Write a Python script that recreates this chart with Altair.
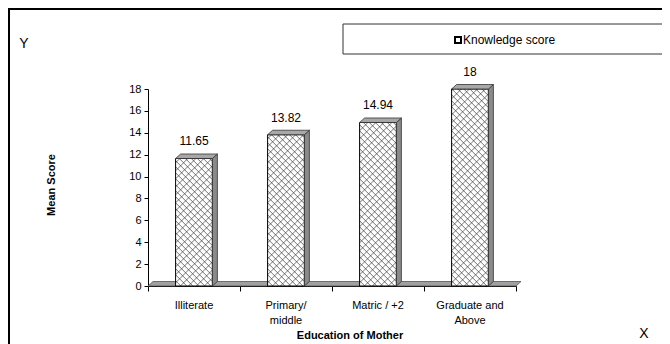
import altair as alt
import pandas as pd
import numpy as np

# ---- data ----
categories = ["Illiterate", "Primary/\nmiddle", "Matric / +2", "Graduate and\nAbove"]
values = [11.65, 13.82, 14.94, 18]
value_labels = ["11.65", "13.82", "14.94", "18"]
y_ticks = [0, 2, 4, 6, 8, 10, 12, 14, 16, 18]
x_ticks = [0, 1, 2, 3, 4]

# ---- geometry helpers (plot area size and 3D depth) ----
W, H = 368, 197
YMAX = 18
SX = W / 4.0
SY = H / YMAX
HALF = 0.2
DX = 5 / SX
DY = 4.5 / SY

bars = pd.DataFrame({"cat": categories, "value": values, "label": value_labels,
                     "idx": list(range(len(categories)))})
bars["xc"] = bars["idx"] + 0.5
bars["xl"] = bars["xc"] - HALF
bars["xr"] = bars["xc"] + HALF
bars["base"] = 0.0

# hatch segments clipped to each bar (decorative fill pattern)
rows = []
bw = 2 * HALF * SX
for _, b in bars.iterrows():
    T = b["value"] * SY
    for m, step in ((-1, 6.0), (1, 8.0)):
        for c in np.arange(-bw - step, T + bw + step, step):
            if m == 1:
                lo, hi = -c, T - c
            else:
                lo, hi = c - T, c
            lo = max(lo, 0.0)
            hi = min(hi, bw)
            if hi - lo < 0.5:
                continue
            rows.append({"cat": b["cat"], "x": b["xl"] + lo / SX, "x2": b["xl"] + hi / SX,
                         "y": (m * lo + c) / SY, "y2": (m * hi + c) / SY})
hatch = pd.DataFrame(rows)

# side faces and top faces of the 3D bars
side_rows, top_rows = [], []
for _, b in bars.iterrows():
    side_rows.append({"cat": b["cat"], "x": b["xr"], "lo": 0.0, "hi": b["value"]})
    side_rows.append({"cat": b["cat"], "x": b["xr"] + DX, "lo": DY, "hi": b["value"] + DY})
    v = b["value"]
    top_rows += [
        {"cat": b["cat"], "x": b["xl"], "lo": v, "hi": v},
        {"cat": b["cat"], "x": b["xl"] + DX, "lo": v, "hi": v + DY},
        {"cat": b["cat"], "x": b["xr"], "lo": v, "hi": v + DY},
        {"cat": b["cat"], "x": b["xr"] + DX, "lo": v + DY, "hi": v + DY},
    ]
side = pd.DataFrame(side_rows)
topf = pd.DataFrame(top_rows)
floor = pd.DataFrame({"x": [0, DX, 4, 4 + DX], "lo": [0, 0, 0, DY], "hi": [0, DY, DY, DY]})

xs = alt.Scale(domain=[0, 4], nice=False, zero=False)
ys = alt.Scale(domain=[0, YMAX], nice=False)
one = pd.DataFrame({"a": [0]})

x_axis = alt.Axis(values=x_ticks, labels=False, title=None, tickSize=5, grid=False,
                  domainColor="#000000", tickColor="#000000")
y_axis = alt.Axis(values=y_ticks, title=None, tickSize=4, grid=False, labelFontSize=11,
                  labelColor="#000000", domainColor="#000000", tickColor="#000000",
                  labelPadding=3, labelOverlap=False)


def X(f):
    return alt.X(f, scale=xs, axis=x_axis)


def Y(f):
    return alt.Y(f, scale=ys, axis=y_axis)


floor_layer = alt.Chart(floor).mark_area(fill="#a0a0a0", stroke="#555555", strokeWidth=0.8).encode(
    x=X("x:Q"), y=Y("lo:Q"), y2="hi:Q")

front = alt.Chart(bars).mark_rect(fill="white").encode(
    x=X("xl:Q"), x2="xr:Q", y=Y("base:Q"), y2="value:Q")

hatch_layer = alt.Chart(hatch).mark_rule(color="#3a3a3a", strokeWidth=0.7).encode(
    x=X("x:Q"), x2="x2:Q", y=Y("y:Q"), y2="y2:Q")

outline = alt.Chart(bars).mark_rect(fill=None, stroke="#000000", strokeWidth=1).encode(
    x=X("xl:Q"), x2="xr:Q", y=Y("base:Q"), y2="value:Q")

side_layer = alt.Chart(side).mark_area(fill="#8a8a8a", stroke="#333333", strokeWidth=0.8).encode(
    x=X("x:Q"), y=Y("lo:Q"), y2="hi:Q", detail="cat:N")

top_layer = alt.Chart(topf).mark_area(fill="#a8a8a8", stroke="#333333", strokeWidth=0.8).encode(
    x=X("x:Q"), y=Y("lo:Q"), y2="hi:Q", detail="cat:N")

value_text = alt.Chart(bars).mark_text(baseline="bottom", dy=-10, fontSize=12, color="#000000").encode(
    x=X("xc:Q"), y=Y("value:Q"), text="label:N")

cat_text = alt.Chart(bars).mark_text(baseline="top", fontSize=11, lineBreak="\n", color="#000000",
                                     lineHeight=15).encode(
    x=X("xc:Q"), y=alt.value(211), text="cat:N")

border = alt.Chart(one).mark_rect(fill=None, stroke="#000000", strokeWidth=2).encode(
    x=alt.value(-139), x2=alt.value(560), y=alt.value(-80), y2=alt.value(320))

legend_box = alt.Chart(one).mark_rect(fill="white", stroke="#333333", strokeWidth=1).encode(
    x=alt.value(195), x2=alt.value(521), y=alt.value(-65), y2=alt.value(-35))

legend_icon = alt.Chart(one).mark_point(shape="square", size=36, filled=False, stroke="#000000",
                                        strokeWidth=2, opacity=1).encode(
    x=alt.value(310), y=alt.value(-49))

legend_text = alt.Chart(one).mark_text(align="left", baseline="middle", fontSize=12,
                                       color="#000000").encode(
    x=alt.value(315), y=alt.value(-49), text=alt.value("Knowledge score"))

y_title = alt.Chart(one).mark_text(angle=270, fontSize=11, fontWeight="bold", color="#000000").encode(
    x=alt.value(-96), y=alt.value(96), text=alt.value("Mean Score"))

x_title = alt.Chart(one).mark_text(fontSize=11, fontWeight="bold", color="#000000").encode(
    x=alt.value(202), y=alt.value(247), text=alt.value("Education of Mother"))

y_letter = alt.Chart(one).mark_text(fontSize=14, color="#000000").encode(
    x=alt.value(-124), y=alt.value(-45), text=alt.value("Y"))

x_letter = alt.Chart(one).mark_text(fontSize=14, color="#000000").encode(
    x=alt.value(496), y=alt.value(245), text=alt.value("X"))

chart = alt.layer(
    border, floor_layer, front, hatch_layer, outline, side_layer, top_layer,
    value_text, cat_text, legend_box, legend_icon, legend_text, y_title, x_title,
    y_letter, x_letter,
).properties(
    width=W, height=H,
    autosize=alt.AutoSizeParams(type="none"),
    padding={"left": 140, "top": 81, "right": 146, "bottom": 58},
).configure(font="Liberation Sans").configure_view(stroke=None)

chart.save("out.html", embed_options={"renderer": "svg", "actions": False})
